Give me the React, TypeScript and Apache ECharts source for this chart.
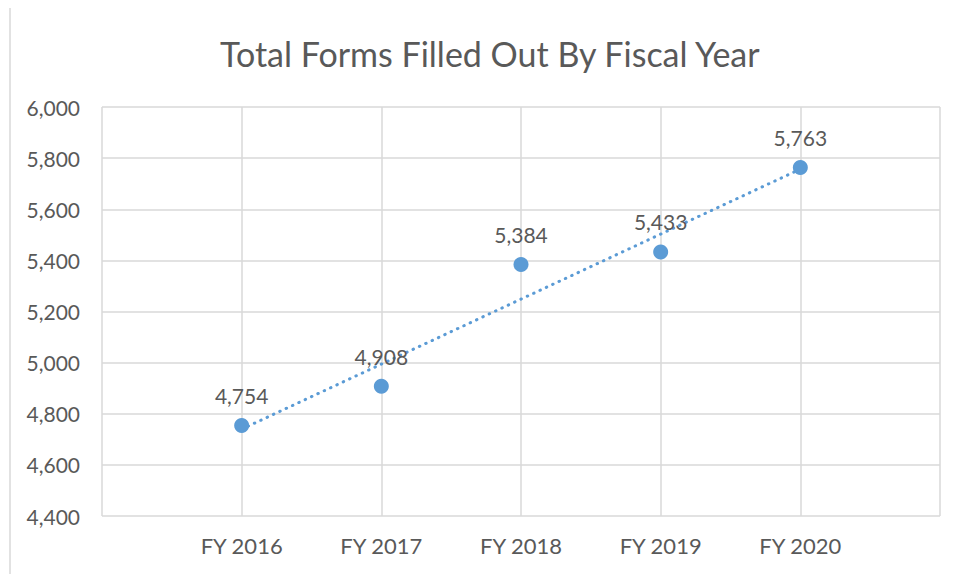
import React, { useEffect, useRef } from "react";
import * as echarts from "echarts";

const title = "Total Forms Filled Out By Fiscal Year";
const categories = ["", "FY 2016", "FY 2017", "FY 2018", "FY 2019", "FY 2020", ""];
const formCounts = [4754, 4908, 5384, 5433, 5763];
const yTicks = { min: 4400, max: 6000, interval: 200 };

function trend(values: number[]): number[] {
  const n = values.length;
  const xs = values.map((_, i) => i + 1);
  const mx = xs.reduce((a, b) => a + b, 0) / n;
  const my = values.reduce((a, b) => a + b, 0) / n;
  let num = 0;
  let den = 0;
  for (let i = 0; i < n; i++) {
    num += (xs[i] - mx) * (values[i] - my);
    den += (xs[i] - mx) * (xs[i] - mx);
  }
  const slope = num / den;
  return xs.map((x) => my + slope * (x - mx));
}

export default function App() {
  const ref = useRef<HTMLDivElement>(null);
  useEffect(() => {
    if (!ref.current) return;
    const chart = echarts.init(ref.current, undefined, { renderer: "svg" });
    const font = "Lato, 'Open Sans', sans-serif";
    const text = "#595959";
    const blue = "#5B9BD5";
    const pointData: (number | null)[] = [null, ...formCounts, null];
    const trendData: (number | null)[] = [null, ...trend(formCounts), null];
    chart.setOption({
      animation: false,
      backgroundColor: "#ffffff",
      textStyle: { fontFamily: font },
      title: {
        text: title,
        left: 215,
        top: 31,
        textStyle: { fontFamily: font, fontSize: 34, fontWeight: "normal", color: text },
      },
      graphic: [
        {
          type: "rect",
          shape: { x: 10, y: 7, width: 980, height: 600 },
          style: { fill: "none", stroke: "#d9d9d9", lineWidth: 1.5 },
          silent: true,
        },
      ],
      grid: { left: 102, top: 107, width: 838, height: 409, containLabel: false },
      xAxis: {
        type: "category",
        data: categories,
        boundaryGap: false,
        axisLine: { show: false },
        axisTick: { show: false },
        axisLabel: { color: text, fontSize: 22, fontFamily: font, margin: 18 },
        splitLine: { show: true, lineStyle: { color: "#d9d9d9", width: 1.5 } },
      },
      yAxis: {
        type: "value",
        min: yTicks.min,
        max: yTicks.max,
        interval: yTicks.interval,
        axisLine: { show: false },
        axisTick: { show: false },
        axisLabel: {
          color: text,
          fontSize: 21,
          fontFamily: font,
          margin: 22,
          formatter: (v: number) => v.toLocaleString("en-US"),
        },
        splitLine: { show: true, lineStyle: { color: "#d9d9d9", width: 1.5 } },
      },
      series: [
        {
          name: "Trend",
          type: "line",
          data: trendData,
          showSymbol: false,
          symbol: "none",
          connectNulls: false,
          lineStyle: { color: blue, width: 3, type: [0.5, 6.5], cap: "round" },
          z: 2,
          silent: true,
        },
        {
          name: "Forms",
          type: "scatter",
          data: pointData,
          symbolSize: 15,
          itemStyle: { color: blue, opacity: 1 },
          label: {
            show: true,
            position: "top",
            distance: 12,
            color: text,
            fontSize: 21,
            fontFamily: font,
            formatter: (p: any) => Number(p.value).toLocaleString("en-US"),
          },
          z: 3,
        },
      ],
    });
    return () => chart.dispose();
  }, []);
  return <div ref={ref} style={{ width: 960, height: 582, margin: -8 }} />;
}
